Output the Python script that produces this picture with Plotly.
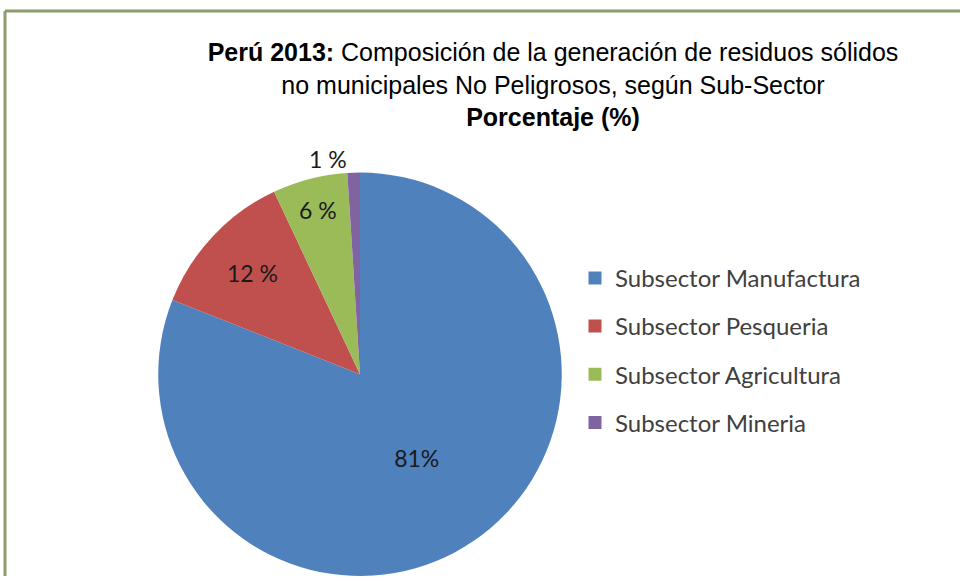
import plotly.graph_objects as go

# Data
subsectors = ["Subsector Manufactura", "Subsector Pesqueria",
              "Subsector Agricultura", "Subsector Mineria"]
percentages = [81, 12, 6, 1]
slice_labels = ["81%", "12 %", "6 %", "1 %"]
colors = ["#4F81BD", "#C0504D", "#9BBB59", "#8064A2"]

W, H = 960, 581

fig = go.Figure()

fig.add_trace(go.Pie(
    labels=subsectors,
    values=percentages,
    text=slice_labels,
    textinfo="text",
    textposition=["inside", "inside", "inside", "outside"],
    insidetextorientation="horizontal",
    textfont=dict(family="Lato, Open Sans, sans-serif", size=23, color="#1a1a1a"),
    marker=dict(colors=colors, line=dict(width=0)),
    sort=False,
    direction="clockwise",
    rotation=0,
    showlegend=False,
    hoverinfo="label+percent",
    domain=dict(x=[154 / W, 566 / W], y=[0, 1 - 174 / H]),
))

# legend entries (separate groups so the spacing can be opened up)
for name, col in zip(subsectors, colors):
    fig.add_trace(go.Scatter(
        x=[None], y=[None], mode="markers", name=name,
        legendgroup=name,
        marker=dict(symbol="square", size=13, color=col),
    ))

fig.update_layout(
    width=W, height=H,
    margin=dict(l=0, r=0, t=0, b=0),
    paper_bgcolor="white",
    plot_bgcolor="white",
    xaxis=dict(visible=False),
    yaxis=dict(visible=False),
    title=dict(
        text="<b>Perú 2013:</b> Composición de la generación de residuos sólidos<br>"
             "no municipales No Peligrosos, según Sub-Sector<br>"
             "<b>Porcentaje (%)</b>",
        x=553 / W, xanchor="center",
        y=1 - 61 / H, yanchor="top",
        font=dict(family="Liberation Sans, Arial, sans-serif",
                  size=25, color="#000000"),
    ),
    legend=dict(
        x=575 / W, xanchor="left",
        y=1 - 258 / H, yanchor="top",
        font=dict(family="Lato, Open Sans, sans-serif", size=24, color="#404040"),
        tracegroupgap=14,
        itemwidth=30,
        bgcolor="rgba(0,0,0,0)",
    ),
    shapes=[
        dict(type="line", xref="paper", yref="paper",
             x0=5 / W, x1=5 / W, y0=0, y1=1 - 11 / H,
             line=dict(color="#8C9C6C", width=3)),
        dict(type="line", xref="paper", yref="paper",
             x0=5 / W, x1=1, y0=1 - 11 / H, y1=1 - 11 / H,
             line=dict(color="#8C9C6C", width=3)),
    ],
)

fig.write_html("out.html", config={"displayModeBar": False},
               post_script="document.body.style.margin='0';")
